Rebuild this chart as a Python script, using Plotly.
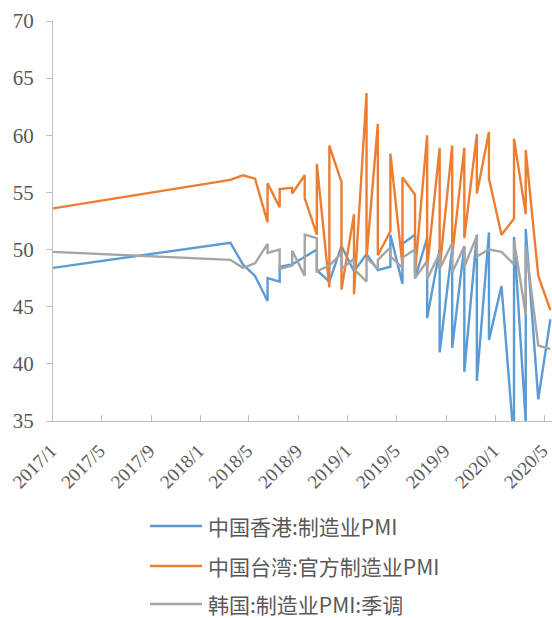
import plotly.graph_objects as go

# Hong Kong manufacturing PMI
hk_dates = [
    "2017-01-01", "2018-03-16", "2018-04-16", "2018-05-16", "2018-06-16", "2018-06-16",
    "2018-07-16", "2018-07-16", "2018-08-16", "2018-09-16", "2018-10-16", "2018-10-16",
    "2018-11-16", "2018-12-16", "2019-01-16", "2019-02-16", "2019-03-16", "2019-04-16",
    "2019-04-16", "2019-05-16", "2019-05-16", "2019-06-16", "2019-06-16", "2019-07-16",
    "2019-07-16", "2019-08-16", "2019-08-16", "2019-09-16", "2019-09-16", "2019-10-16",
    "2019-10-16", "2019-11-16", "2019-11-16", "2019-12-16", "2019-12-16", "2020-01-16",
    "2020-02-16", "2020-02-16", "2020-03-16", "2020-03-16", "2020-04-16", "2020-05-16",
]
hk_values = [
    48.4, 50.6, 48.7, 47.7, 45.5, 47.5,
    47.2, 48.5, 48.7, 49.4, 50.0, 48.2,
    47.2, 50.3, 48.1, 49.6, 48.2, 48.5,
    51.3, 47.0, 50.5, 51.3, 47.5, 51.0,
    44.0, 50.0, 41.0, 50.1, 41.4, 50.3,
    39.3, 51.3, 38.5, 51.5, 42.1, 46.8,
    33.1, 51.1, 34.9, 51.8, 36.9, 43.9,
]

# Taiwan official manufacturing PMI
tw_dates = [
    "2017-01-01", "2018-03-16", "2018-04-16", "2018-05-16", "2018-06-16", "2018-06-16",
    "2018-07-16", "2018-07-16", "2018-08-16", "2018-08-16", "2018-09-16", "2018-09-16",
    "2018-10-16", "2018-10-16", "2018-11-16", "2018-11-16", "2018-12-16", "2018-12-16",
    "2019-01-16", "2019-01-16", "2019-02-16", "2019-02-16", "2019-03-16", "2019-03-16",
    "2019-04-16", "2019-04-16", "2019-05-16", "2019-05-16", "2019-06-16", "2019-06-16",
    "2019-07-16", "2019-07-16", "2019-08-16", "2019-08-16", "2019-09-16", "2019-09-16",
    "2019-10-16", "2019-10-16", "2019-11-16", "2019-11-16", "2019-12-16", "2019-12-16",
    "2020-01-16", "2020-02-16", "2020-02-16", "2020-03-16", "2020-03-16", "2020-04-16",
    "2020-05-16",
]
tw_values = [
    53.6, 56.1, 56.5, 56.2, 52.4, 55.8,
    53.7, 55.3, 55.4, 54.9, 56.5, 54.5,
    51.3, 57.5, 46.7, 59.1, 55.9, 46.5,
    53.1, 46.1, 63.7, 49.3, 61.0, 49.5,
    51.6, 58.4, 48.6, 56.3, 54.8, 48.0,
    60.0, 48.4, 58.9, 48.3, 59.1, 49.5,
    58.9, 51.0, 60.1, 54.9, 60.3, 56.2,
    51.3, 52.7, 59.7, 53.1, 58.7, 47.7,
    44.7,
]

# Korea manufacturing PMI, seasonally adjusted
kr_dates = [
    "2017-01-01", "2018-03-16", "2018-04-16", "2018-05-16", "2018-06-16", "2018-06-16",
    "2018-07-16", "2018-07-16", "2018-08-16", "2018-08-16", "2018-09-16", "2018-09-16",
    "2018-10-16", "2018-10-16", "2018-11-16", "2018-12-16", "2018-12-16", "2019-01-16",
    "2019-01-16", "2019-02-16", "2019-02-16", "2019-03-16", "2019-03-16", "2019-04-16",
    "2019-04-16", "2019-05-16", "2019-05-16", "2019-06-16", "2019-06-16", "2019-07-16",
    "2019-07-16", "2019-08-16", "2019-08-16", "2019-09-16", "2019-09-16", "2019-10-16",
    "2019-10-16", "2019-11-16", "2019-11-16", "2019-12-16", "2020-01-16", "2020-02-16",
    "2020-02-16", "2020-03-16", "2020-03-16", "2020-04-16", "2020-05-16",
]
kr_values = [
    49.8, 49.1, 48.4, 48.8, 50.5, 49.7,
    50.0, 48.3, 48.6, 49.9, 47.7, 51.3,
    51.0, 48.1, 48.6, 49.7, 48.3, 49.2,
    48.3, 47.2, 49.3, 48.3, 49.1, 50.2,
    49.4, 48.4, 49.3, 50.0, 47.5, 49.0,
    47.4, 49.7, 48.3, 50.6, 48.0, 50.3,
    48.5, 51.2, 49.4, 50.0, 49.8, 48.7,
    50.8, 44.3, 50.3, 41.6, 41.3,
]

series_names = ["中国香港:制造业PMI", "中国台湾:官方制造业PMI", "韩国:制造业PMI:季调"]
series_colors = ["#5B9BD5", "#ED7D31", "#A5A5A5"]

tick_dates = ["2017-01-01", "2017-05-01", "2017-09-01", "2018-01-01", "2018-05-01",
              "2018-09-01", "2019-01-01", "2019-05-01", "2019-09-01", "2020-01-01",
              "2020-05-01"]
tick_labels = ["2017/1", "2017/5", "2017/9", "2018/1", "2018/5", "2018/9",
               "2019/1", "2019/5", "2019/9", "2020/1", "2020/5"]
y_ticks = [35, 40, 45, 50, 55, 60, 65, 70]

W, H = 552, 618
ML, MR, MT, MB = 53, 0, 21, 197

fig = go.Figure()
for dates, vals, name, color in zip(
    [hk_dates, tw_dates, kr_dates],
    [hk_values, tw_values, kr_values],
    series_names, series_colors,
):
    fig.add_trace(go.Scatter(
        x=dates, y=vals, mode="lines", name=name,
        line=dict(color=color, width=2.4), showlegend=False,
    ))

axis_grey = "#BFBFBF"
text_grey = "#595959"

fig.update_xaxes(
    type="date", range=["2017-01-01", "2020-05-20"], automargin=False,
    tickvals=tick_dates, ticktext=tick_labels, tickangle=-45,
    ticks="inside", ticklen=6, tickcolor=axis_grey,
    showline=True, linecolor=axis_grey, linewidth=1.3,
    showgrid=False, zeroline=False,
    ticklabeloverflow="allow", ticklabelstandoff=10, ticklabelshift=-2,
    tickfont=dict(family="Liberation Serif", size=19, color=text_grey),
)
fig.update_yaxes(
    range=[35, 70], tickvals=y_ticks, automargin=False,
    ticks="outside", ticklen=6, tickcolor=axis_grey,
    showline=True, linecolor=axis_grey, linewidth=1.3,
    showgrid=False, zeroline=False,
    ticklabelstandoff=8,
    tickfont=dict(family="Liberation Serif", size=21, color=text_grey),
)

# Legend drawn below the plot: a short coloured line followed by the series name
plot_w = W - ML - MR
plot_h = H - MT - MB
legend_rows_px = [526, 566, 604]
line_x0_px, line_x1_px, text_x_px = 150, 202, 206
for name, color, row in zip(series_names, series_colors, legend_rows_px):
    yp = (H - MB - row) / plot_h
    fig.add_shape(
        type="line", xref="paper", yref="paper",
        x0=(line_x0_px - ML) / plot_w, x1=(line_x1_px - ML) / plot_w,
        y0=yp, y1=yp, line=dict(color=color, width=2.4),
    )
    fig.add_annotation(
        xref="paper", yref="paper", x=(text_x_px - ML) / plot_w, y=yp,
        text=name, showarrow=False, xanchor="left", yanchor="middle",
        font=dict(family="Noto Sans CJK SC", size=21, color=text_grey),
    )

fig.update_layout(
    width=W, height=H,
    margin=dict(l=ML, r=MR, t=MT, b=MB),
    paper_bgcolor="white", plot_bgcolor="white",
)

fig.write_html("out.html")
